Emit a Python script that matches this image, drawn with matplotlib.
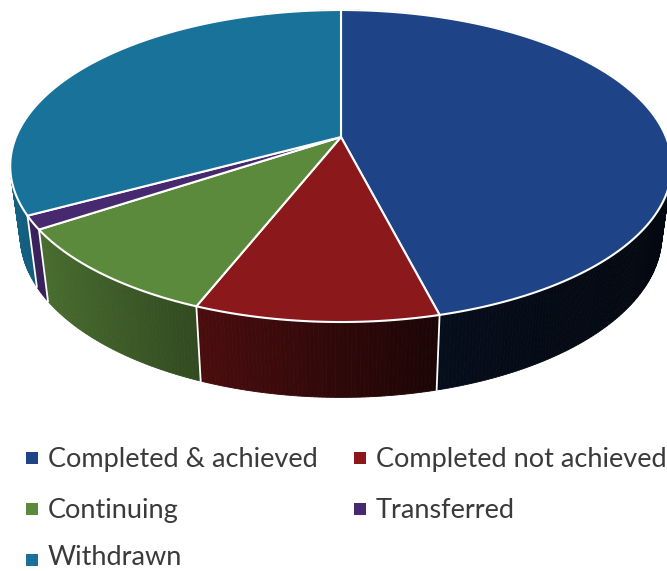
import numpy as np
import matplotlib
matplotlib.use('Agg')
import matplotlib.pyplot as plt
from matplotlib.patches import Polygon

plt.rcParams['font.family'] = ['Lato', 'DejaVu Sans']

# share of each slice (%), clockwise from 12 o'clock
labels = ['Completed & achieved', 'Completed not achieved', 'Continuing', 'Transferred', 'Withdrawn']
shares = [46.0, 10.0, 9.7, 1.4, 32.9]
colors = ['#1F4387', '#8B181B', '#5C8A3C', '#46296F', '#187299']

# perspective of the disc
CX, CY = 341, 137
RX, SY, K = 325, 150.6, 0.186
# bottom rim relative to top rim
BX, BY, BOT_Y = 0.97, 1.04, 205
# wall shading against screen x
SHADE_X = [10, 40, 200, 440, 667]
SHADE_F = [0.85, 0.78, 0.53, 0.2, 0.12]


def top_rim(a):
    u, v = np.sin(a), np.cos(a)
    return CX + RX * u / (1 + K * v), CY - SY * v / (1 + K * v)


def bottom_rim(a):
    x, y = top_rim(a)
    return CX + BX * (x - CX), BOT_Y + BY * (y - CY)


fig = plt.figure(figsize=(6.67, 5.71), dpi=100)
ax = fig.add_axes([0, 0, 1, 1])
ax.set_xlim(0, 667)
ax.set_ylim(571, 0)
ax.axis('off')

edges = np.cumsum([0] + shares) / sum(shares) * 2 * np.pi

#-side wall, small strips so the shade runs along x
for i, c in enumerate(colors):
    rgb = np.array(matplotlib.colors.to_rgb(c))
    aa = np.linspace(edges[i], edges[i + 1], max(3, int(shares[i] * 6)))
    for a0, a1 in zip(aa[:-1], aa[1:]):
        x0, y0 = top_rim(a0)
        x1, y1 = top_rim(a1)
        x2, y2 = bottom_rim(a1)
        x3, y3 = bottom_rim(a0)
        f = np.interp((x0 + x1) / 2, SHADE_X, SHADE_F)
        ax.add_patch(Polygon([(x0, y0), (x1, y1), (x2, y2), (x3, y3)], closed=True,
                             fc=rgb * f, ec=rgb * f, lw=0.6, zorder=1))

#-white seams on the front of the wall
for a in edges[1:5]:
    x0, y0 = top_rim(a)
    x1, y1 = bottom_rim(a)
    ax.plot([x0, x1], [y0, y1], color='white', lw=1.3, zorder=2)

#-top face
for i, c in enumerate(colors):
    aa = np.linspace(edges[i], edges[i + 1], 200)
    xs, ys = top_rim(aa)
    pts = [(CX, CY)] + list(zip(xs, ys))
    ax.add_patch(Polygon(pts, closed=True, fc=c, ec='white', lw=1.5, joinstyle='round', zorder=3))

#-legend
rows = [467, 467, 518, 518, 565]
marker_rows = [458, 458, 509, 509, 560]
cols = [48, 376, 48, 376, 48]
for name, c, x, y, my in zip(labels, colors, cols, rows, marker_rows):
    ax.plot([x - 16], [my], marker='s', ms=8.6, color=c, mew=0, ls='none', zorder=4)
    ax.text(x, y, name, fontsize=19.5, color='#3A3A3A', va='baseline', ha='left', zorder=4)

plt.savefig('out.png', dpi=100)
